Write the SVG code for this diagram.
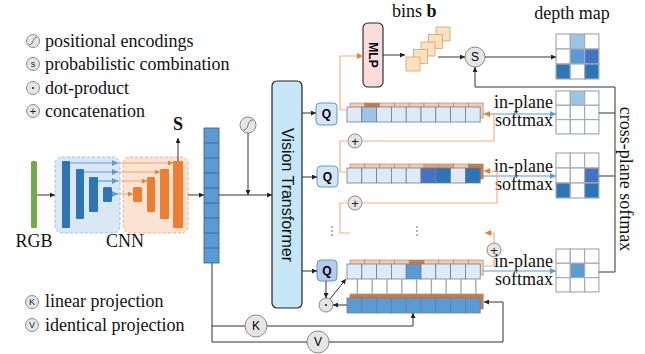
<svg xmlns="http://www.w3.org/2000/svg" width="645" height="354" viewBox="0 0 645 354">
<style>
.t{font-family:"Liberation Serif","Times New Roman",serif;font-size:18px;fill:#111}
.s{font-family:"Liberation Sans",Arial,sans-serif}
.ln{fill:none;stroke:#333;stroke-width:1}
.ol{fill:none;stroke:#f4b183;stroke-width:1.2}
.bl{fill:none;stroke:#5b9bd5;stroke-width:1.2}
.op{fill:#e6e6e6;stroke:#8a8a8a;stroke-width:1}
.fc{stroke:#6f7f95;stroke-width:0.8}
.bc{stroke:#a69080;stroke-width:0.7}
.gc{stroke:#a4acba;stroke-width:1.2}
.lt{fill:#deebf7}
.pe{fill:#f8cbad}
.dk{fill:#cd7a40}
.md{fill:#e2a272}
.small{font-family:"Liberation Sans",Arial,sans-serif;font-size:9px;fill:#222;text-anchor:middle;dominant-baseline:central}
.plus{font-family:"Liberation Sans",Arial,sans-serif;font-size:13px;fill:#222;text-anchor:middle;dominant-baseline:central}
</style>
<defs>
<marker id="ak" viewBox="0 0 6 6" refX="6" refY="3" markerWidth="5" markerHeight="5" orient="auto"><path d="M0,0L6,3L0,6z" fill="#222"/></marker>
<marker id="ao" viewBox="0 0 6 6" refX="6" refY="3" markerWidth="5" markerHeight="5" orient="auto"><path d="M0,0L6,3L0,6z" fill="#ed7d31"/></marker>
<marker id="ab" viewBox="0 0 6 6" refX="6" refY="3" markerWidth="5" markerHeight="5" orient="auto"><path d="M0,0L6,3L0,6z" fill="#5b9bd5"/></marker>
</defs>

<g id="legend">
<circle class="op" cx="33" cy="41" r="6.5"/><path d="M29,45 Q32,45 33,41 T37,37" fill="none" stroke="#777" stroke-width="1"/>
<text class="t" x="45" y="47">positional encodings</text>
<circle class="op" cx="33" cy="64" r="6.5"/><text class="small" x="33" y="64">s</text>
<text class="t" x="45" y="70">probabilistic combination</text>
<circle class="op" cx="33" cy="88" r="6.5"/><circle cx="33" cy="88" r="1.1" fill="#222"/>
<text class="t" x="45" y="94">dot-product</text>
<circle class="op" cx="33" cy="111" r="6.5"/><text class="small" x="33" y="111" style="font-size:11px">+</text>
<text class="t" x="45" y="117">concatenation</text>
<circle class="op" cx="32" cy="302" r="6.5"/><text class="small" x="32" y="302">K</text>
<text class="t" x="45" y="307">linear projection</text>
<circle class="op" cx="32" cy="325" r="6.5"/><text class="small" x="32" y="325">V</text>
<text class="t" x="45" y="331">identical projection</text>
</g>

<g id="rgb">
<rect x="31" y="161" width="6" height="67" rx="1.5" fill="#70ad47"/>
<text class="t" x="34" y="247" text-anchor="middle">RGB</text>
</g>

<g id="cnn">
<rect x="55" y="157" width="65" height="76" rx="7" fill="#dae8f6" stroke="#9dc3e6" stroke-dasharray="3,2"/>
<rect x="123" y="157" width="65" height="76" rx="7" fill="#fbe3d3" stroke="#f4b183" stroke-dasharray="3,2"/>
<rect x="62" y="161" width="8" height="67" rx="1" fill="#2e75b6"/>
<rect x="76" y="169" width="8" height="50" rx="1" fill="#2e75b6"/>
<rect x="89" y="177" width="9" height="35" rx="1" fill="#2e75b6"/>
<rect x="103" y="187" width="9" height="15" rx="1.5" fill="#2e75b6"/>
<rect x="133" y="187" width="9" height="15" rx="1.5" fill="#ed7d31"/>
<rect x="147" y="177" width="8" height="35" rx="1" fill="#ed7d31"/>
<rect x="160" y="169" width="9" height="50" rx="1" fill="#ed7d31"/>
<rect x="173" y="161" width="10" height="67" rx="1" fill="#ed7d31"/>
<text class="t" x="125" y="247" text-anchor="middle">CNN</text>
<text class="t" x="178" y="130" text-anchor="middle" font-weight="bold">S</text>
</g>

<g id="tokens">
<rect x="204" y="128" width="15" height="135" fill="#5b9bd5" stroke="#2f5f8c" stroke-width="0.8"/>
<path d="M204,143H219M204,158H219M204,173H219M204,188H219M204,203H219M204,218H219M204,233H219M204,248H219" stroke="#2f5f8c" stroke-width="0.8"/>
</g>

<g id="posenc">
<circle class="op" cx="248" cy="125" r="8"/><path d="M243,130 Q247,130 248,125 T253,120" fill="none" stroke="#777" stroke-width="1"/>
</g>

<g id="vit">
<rect x="272" y="81" width="30" height="227" rx="5" fill="#c5e7f6" stroke="#222" stroke-width="1.2"/>
<text class="s" x="287" y="195" font-size="16" text-anchor="middle" dominant-baseline="central" transform="rotate(90 287 195)" fill="#111">Vision Transformer</text>
</g>

<g id="q1"><rect x="316" y="103" width="21" height="22" rx="4" fill="#d6e5f6" stroke="#5b9bd5"/><text class="s" x="326.5" y="114" font-size="12" font-weight="bold" text-anchor="middle" dominant-baseline="central">Q</text></g>
<g id="q2"><rect x="317" y="166" width="21" height="21" rx="4" fill="#d6e5f6" stroke="#5b9bd5"/><text class="s" x="327.5" y="176.5" font-size="12" font-weight="bold" text-anchor="middle" dominant-baseline="central">Q</text></g>
<g id="q3"><rect x="317" y="260" width="20" height="21" rx="4" fill="#b5caee" stroke="#5b9bd5"/><text class="s" x="327" y="270.5" font-size="12" font-weight="bold" text-anchor="middle" dominant-baseline="central">Q</text></g>

<g id="mlp">
<rect x="363" y="23" width="20" height="64" rx="5" fill="#fbdcdc" stroke="#222" stroke-width="1.1"/>
<text class="s" x="373" y="55" font-size="12" font-weight="bold" text-anchor="middle" dominant-baseline="central" transform="rotate(90 373 55)">MLP</text>
</g>

<g id="bins" fill="#fde0bd" stroke="#c9a57e" stroke-width="0.8">
<rect x="436" y="27" width="14" height="14"/>
<rect x="428.5" y="34.5" width="14" height="14"/>
<rect x="421" y="42" width="14" height="14"/>
<rect x="413.5" y="49.5" width="14" height="14"/>
<rect x="406" y="57" width="14" height="14"/>
</g>
<text class="t" x="392" y="17">bins <tspan font-weight="bold">b</tspan></text>

<g id="scomb"><circle class="op" cx="475" cy="57" r="10"/><text class="s" x="475" y="57" font-size="12" text-anchor="middle" dominant-baseline="central">S</text></g>

<g id="depthmap">
<text class="t" x="572" y="19" text-anchor="middle">depth map</text>
<g class="gc">
<rect x="556" y="34" width="14.3" height="15" fill="#fff"/><rect x="570.3" y="34" width="14.3" height="15" fill="#9dc3e6"/><rect x="584.6" y="34" width="14.3" height="15" fill="#fff"/>
<rect x="556" y="49" width="14.3" height="15" fill="#fff"/><rect x="570.3" y="49" width="14.3" height="15" fill="#5b9bd5"/><rect x="584.6" y="49" width="14.3" height="15" fill="#4472c4"/>
<rect x="556" y="64" width="14.3" height="15" fill="#2e75b6"/><rect x="570.3" y="64" width="14.3" height="15" fill="#fff"/><rect x="584.6" y="64" width="14.3" height="15" fill="#2e75b6"/>
</g>
</g>

<g id="grid1" class="gc">
<rect x="556" y="91" width="14.3" height="14.3" fill="#fff"/><rect x="570.3" y="91" width="14.3" height="14.3" fill="#9dc3e6"/><rect x="584.6" y="91" width="14.3" height="14.3" fill="#fff"/>
<rect x="556" y="105.3" width="14.3" height="14.3" fill="#fff"/><rect x="570.3" y="105.3" width="14.3" height="14.3" fill="#fff"/><rect x="584.6" y="105.3" width="14.3" height="14.3" fill="#fff"/>
<rect x="556" y="119.6" width="14.3" height="14.3" fill="#fff"/><rect x="570.3" y="119.6" width="14.3" height="14.3" fill="#fff"/><rect x="584.6" y="119.6" width="14.3" height="14.3" fill="#fff"/>
</g>
<g id="grid2" class="gc">
<rect x="556" y="153" width="14.3" height="15" fill="#fff"/><rect x="570.3" y="153" width="14.3" height="15" fill="#fff"/><rect x="584.6" y="153" width="14.3" height="15" fill="#fff"/>
<rect x="556" y="168" width="14.3" height="15" fill="#fff"/><rect x="570.3" y="168" width="14.3" height="15" fill="#fff"/><rect x="584.6" y="168" width="14.3" height="15" fill="#4472c4"/>
<rect x="556" y="183" width="14.3" height="15" fill="#2e75b6"/><rect x="570.3" y="183" width="14.3" height="15" fill="#fff"/><rect x="584.6" y="183" width="14.3" height="15" fill="#2e75b6"/>
</g>
<g id="grid3" class="gc">
<rect x="556" y="249" width="14.3" height="14.3" fill="#fff"/><rect x="570.3" y="249" width="14.3" height="14.3" fill="#fff"/><rect x="584.6" y="249" width="14.3" height="14.3" fill="#fff"/>
<rect x="556" y="263.3" width="14.3" height="14.3" fill="#fff"/><rect x="570.3" y="263.3" width="14.3" height="14.3" fill="#5b9bd5"/><rect x="584.6" y="263.3" width="14.3" height="14.3" fill="#fff"/>
<rect x="556" y="277.6" width="14.3" height="14.3" fill="#fff"/><rect x="570.3" y="277.6" width="14.3" height="14.3" fill="#fff"/><rect x="584.6" y="277.6" width="14.3" height="14.3" fill="#fff"/>
</g>

<g id="row1">
<g class="bc"><rect class="pe" x="350" y="103" width="14.8" height="15"/><rect class="dk" x="364.8" y="103" width="14.8" height="15"/><rect class="pe" x="379.6" y="103" width="14.8" height="15"/><rect class="pe" x="394.4" y="103" width="14.8" height="15"/><rect class="pe" x="409.2" y="103" width="14.8" height="15"/><rect class="pe" x="424" y="103" width="14.8" height="15"/><rect class="pe" x="438.8" y="103" width="14.8" height="15"/><rect class="pe" x="453.6" y="103" width="14.8" height="15"/><rect class="pe" x="468.4" y="103" width="14.8" height="15"/></g>
<g class="fc"><rect class="lt" x="347" y="107" width="14.8" height="15"/><rect fill="#9dc3e6" x="361.8" y="107" width="14.8" height="15"/><rect class="lt" x="376.6" y="107" width="14.8" height="15"/><rect class="lt" x="391.4" y="107" width="14.8" height="15"/><rect class="lt" x="406.2" y="107" width="14.8" height="15"/><rect class="lt" x="421" y="107" width="14.8" height="15"/><rect class="lt" x="435.8" y="107" width="14.8" height="15"/><rect class="lt" x="450.6" y="107" width="14.8" height="15"/><rect class="lt" x="465.4" y="107" width="14.8" height="15"/></g>
</g>
<g id="row2">
<g class="bc"><rect class="pe" x="350" y="164" width="14.8" height="15"/><rect class="pe" x="364.8" y="164" width="14.8" height="15"/><rect class="pe" x="379.6" y="164" width="14.8" height="15"/><rect class="pe" x="394.4" y="164" width="14.8" height="15"/><rect class="pe" x="409.2" y="164" width="14.8" height="15"/><rect class="md" x="424" y="164" width="14.8" height="15"/><rect class="md" x="438.8" y="164" width="14.8" height="15"/><rect class="pe" x="453.6" y="164" width="14.8" height="15"/><rect class="dk" x="468.4" y="164" width="14.8" height="15"/></g>
<g class="fc"><rect class="lt" x="347" y="168" width="14.8" height="15"/><rect class="lt" x="361.8" y="168" width="14.8" height="15"/><rect class="lt" x="376.6" y="168" width="14.8" height="15"/><rect class="lt" x="391.4" y="168" width="14.8" height="15"/><rect class="lt" x="406.2" y="168" width="14.8" height="15"/><rect fill="#4472c4" x="421" y="168" width="14.8" height="15"/><rect fill="#2e75b6" x="435.8" y="168" width="14.8" height="15"/><rect class="lt" x="450.6" y="168" width="14.8" height="15"/><rect fill="#2e75b6" x="465.4" y="168" width="14.8" height="15"/></g>
</g>
<g id="row3">
<g class="bc"><rect class="pe" x="350" y="260" width="14.8" height="15"/><rect class="pe" x="364.8" y="260" width="14.8" height="15"/><rect class="pe" x="379.6" y="260" width="14.8" height="15"/><rect class="pe" x="394.4" y="260" width="14.8" height="15"/><rect class="dk" x="409.2" y="260" width="14.8" height="15"/><rect class="pe" x="424" y="260" width="14.8" height="15"/><rect class="pe" x="438.8" y="260" width="14.8" height="15"/><rect class="pe" x="453.6" y="260" width="14.8" height="15"/><rect class="pe" x="468.4" y="260" width="14.8" height="15"/></g>
<g class="fc"><rect class="lt" x="347" y="264" width="14.8" height="15"/><rect class="lt" x="361.8" y="264" width="14.8" height="15"/><rect class="lt" x="376.6" y="264" width="14.8" height="15"/><rect class="lt" x="391.4" y="264" width="14.8" height="15"/><rect fill="#5b9bd5" x="406.2" y="264" width="14.8" height="15"/><rect class="lt" x="421" y="264" width="14.8" height="15"/><rect class="lt" x="435.8" y="264" width="14.8" height="15"/><rect class="lt" x="450.6" y="264" width="14.8" height="15"/><rect class="lt" x="465.4" y="264" width="14.8" height="15"/></g>
</g>
<g id="kv">
<g class="bc"><rect class="dk" x="350" y="294" width="14.8" height="15"/><rect class="dk" x="364.8" y="294" width="14.8" height="15"/><rect class="dk" x="379.6" y="294" width="14.8" height="15"/><rect class="dk" x="394.4" y="294" width="14.8" height="15"/><rect class="dk" x="409.2" y="294" width="14.8" height="15"/><rect class="dk" x="424" y="294" width="14.8" height="15"/><rect class="dk" x="438.8" y="294" width="14.8" height="15"/><rect class="dk" x="453.6" y="294" width="14.8" height="15"/><rect class="dk" x="468.4" y="294" width="14.8" height="15"/></g>
<g class="fc" fill="#5b9bd5"><rect x="347" y="298" width="14.8" height="15"/><rect x="361.8" y="298" width="14.8" height="15"/><rect x="376.6" y="298" width="14.8" height="15"/><rect x="391.4" y="298" width="14.8" height="15"/><rect x="406.2" y="298" width="14.8" height="15"/><rect x="421" y="298" width="14.8" height="15"/><rect x="435.8" y="298" width="14.8" height="15"/><rect x="450.6" y="298" width="14.8" height="15"/><rect x="465.4" y="298" width="14.8" height="15"/></g>
</g>

<g id="plus1"><circle class="op" cx="355" cy="141" r="7"/><text class="plus" x="355" y="141">+</text></g>
<g id="plus2"><circle class="op" cx="355" cy="203" r="7"/><text class="plus" x="355" y="203">+</text></g>
<g id="plus3"><circle class="op" cx="494" cy="250" r="7"/><text class="plus" x="494" y="250">+</text></g>
<g id="dot"><circle class="op" cx="326" cy="305" r="7"/><circle cx="326" cy="305" r="1.1" fill="#222"/></g>
<g id="kcirc"><circle class="op" cx="256" cy="326" r="11"/><text class="s" x="256" y="326" font-size="12" text-anchor="middle" dominant-baseline="central">K</text></g>
<g id="vcirc"><circle class="op" cx="318" cy="342" r="11"/><text class="s" x="318" y="342" font-size="12" text-anchor="middle" dominant-baseline="central">V</text></g>

<g id="labels">
<text class="t" x="553" y="108" text-anchor="end">in-plane</text>
<text class="t" x="553" y="126" text-anchor="end">softmax</text>
<text class="t" x="553" y="172" text-anchor="end">in-plane</text>
<text class="t" x="553" y="190" text-anchor="end">softmax</text>
<text class="t" x="553" y="267" text-anchor="end">in-plane</text>
<text class="t" x="553" y="285" text-anchor="end">softmax</text>
<text class="t" x="620" y="179" font-size="19" text-anchor="middle" transform="rotate(90 620 179)">cross-plane softmax</text>
</g>

<g id="dots" fill="#555">
<circle cx="332" cy="227" r="0.8"/><circle cx="332" cy="231" r="0.8"/><circle cx="332" cy="235" r="0.8"/>
<circle cx="417" cy="227" r="0.8"/><circle cx="417" cy="231" r="0.8"/><circle cx="417" cy="235" r="0.8"/>
</g>

<g id="connectors">
<path class="ln" d="M37,195H55" marker-end="url(#ak)"/>
<path class="bl" d="M70,163H118" marker-end="url(#ab)" stroke-width="1"/>
<path class="bl" d="M84,172H118" marker-end="url(#ab)" stroke-width="1"/>
<path class="bl" d="M98,181H118" marker-end="url(#ab)" stroke-width="1"/>
<path class="bl" d="M112,194H118" marker-end="url(#ab)" stroke-width="1"/>
<path d="M118,163H173" fill="none" stroke="#ed7d31" stroke-width="1" stroke-opacity="0.6" marker-end="url(#ao)"/>
<path d="M118,172H160" fill="none" stroke="#ed7d31" stroke-width="1" stroke-opacity="0.6" marker-end="url(#ao)"/>
<path d="M118,181H147" fill="none" stroke="#ed7d31" stroke-width="1" stroke-opacity="0.6" marker-end="url(#ao)"/>
<path d="M118,194H133" fill="none" stroke="#ed7d31" stroke-width="1" stroke-opacity="0.6" marker-end="url(#ao)"/>
<path class="ln" d="M178,161V138" marker-end="url(#ak)"/>
<path class="ln" d="M188,195H204" marker-end="url(#ak)"/>
<path class="ln" d="M219,195H272" marker-end="url(#ak)"/>
<path class="ln" d="M248,133V195" marker-end="url(#ak)"/>
<path class="ln" d="M302,113H316" marker-end="url(#ak)"/>
<path class="ln" d="M302,177H317" marker-end="url(#ak)"/>
<path class="ln" d="M302,271H317" marker-end="url(#ak)"/>
<path class="ol" d="M347,110H340V56H363" marker-end="url(#ao)"/>
<path class="ln" d="M383,55H405" marker-end="url(#ak)"/>
<path class="ln" d="M438,57H465" marker-end="url(#ak)"/>
<path class="ln" d="M485,57H556" marker-end="url(#ak)"/>
<path class="ln" d="M615,87H475V67" marker-end="url(#ak)"/>
<path class="ln" d="M599,113H615M599,176H615M599,272H615M615,87V272" stroke="#555"/>
<path class="bl" d="M483,114H556" marker-end="url(#ab)"/>
<path class="bl" d="M483,176H556" marker-end="url(#ab)"/>
<path class="bl" d="M483,271H556" marker-end="url(#ab)"/>
<path class="ol" d="M362,141H494V114H484" marker-end="url(#ao)"/>
<path class="ol" d="M348,141H340V172H347"/>
<path class="ol" d="M362,203H497V171H484" marker-end="url(#ao)"/>
<path class="ol" d="M348,203H340V233H350"/>
<path class="ol" d="M494,243V233H485" marker-end="url(#ao)"/>
<path class="ol" d="M494,257V266H483"/>
<path d="M357.4,279V294M372.2,279V294M387,279V294M401.8,279V294M416.6,279V294M431.4,279V294M446.2,279V294M461,279V294M475.8,279V294" stroke="#aaa" stroke-width="1.4"/>
<path class="ln" d="M326,281V298" marker-end="url(#ak)"/>
<path class="ln" d="M347,305H333" marker-end="url(#ak)"/>
<path class="ln" d="M330,299L346,279" marker-end="url(#ak)"/>
<path class="ln" d="M212,263V342H307M212,326H245" stroke="#555"/>
<path class="ln" d="M267,326H413V313" marker-end="url(#ak)"/>
<path class="ln" d="M329,342H503V302H484" marker-end="url(#ak)"/>
</g>
</svg>
